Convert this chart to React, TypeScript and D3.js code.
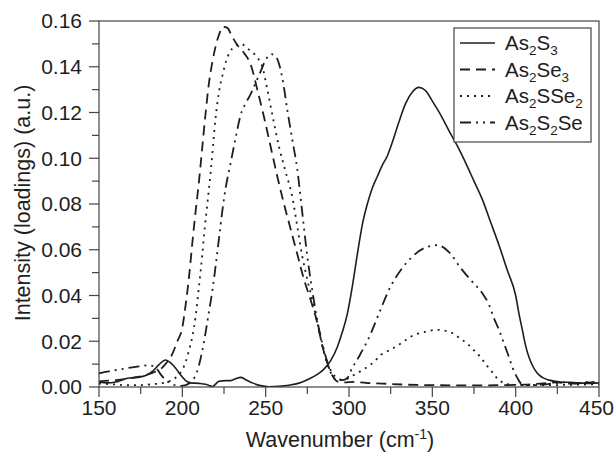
import React from "react";
import * as d3 from "d3";

// wavenumber (cm-1), intensity (loadings)
const as2s3: [number, number][] = [
  [150, 0.0022], [155, 0.0018], [160, 0.0022], [167, 0.0038], [173, 0.0042], [178, 0.005],
  [182, 0.0068], [186, 0.0098], [190, 0.0118], [193, 0.0105], [196, 0.0082], [199, 0.0052],
  [202, 0.0028], [205, 0.0018], [210, 0.0016], [214, 0.0012], [218, 0.0002], [222, 0.0025],
  [226, 0.0028], [229, 0.0028], [232, 0.0036], [235, 0.0042], [238, 0.0032], [242, 0.0018],
  [247, 0.0006], [252, 0.0001], [258, 0.0003], [264, 0.0008], [270, 0.0017], [276, 0.0035],
  [281, 0.0055], [285, 0.0078], [289, 0.0115], [293, 0.0175], [296, 0.024], [299, 0.032],
  [302, 0.044], [305, 0.058], [308, 0.071], [311, 0.08], [314, 0.087], [317, 0.092],
  [320, 0.097], [323, 0.101], [326, 0.107], [330, 0.116], [334, 0.124], [338, 0.129],
  [342, 0.131], [346, 0.1295], [350, 0.125], [355, 0.119], [360, 0.112], [366, 0.104],
  [370, 0.098], [375, 0.09], [380, 0.082], [385, 0.072], [390, 0.062], [395, 0.051],
  [400, 0.04], [402, 0.032], [404, 0.025], [406, 0.018], [408, 0.013], [410, 0.0095],
  [413, 0.006], [416, 0.0042], [420, 0.003], [427, 0.0022], [435, 0.002], [442, 0.0016],
  [450, 0.0018],
];

const as2se3: [number, number][] = [
  [150, 0.0025], [160, 0.003], [170, 0.004], [178, 0.0052], [184, 0.0068], [188, 0.0085],
  [191, 0.011], [194, 0.0145], [197, 0.02], [200, 0.026], [202, 0.036], [204, 0.048],
  [206, 0.063], [208, 0.077], [210, 0.09], [212, 0.105], [214, 0.12], [216, 0.133],
  [218, 0.142], [220, 0.149], [222, 0.154], [224.5, 0.1575], [227, 0.157], [230, 0.153],
  [233, 0.1495], [237, 0.146], [241, 0.141], [245, 0.13], [249, 0.118], [253, 0.105],
  [257, 0.092], [261, 0.08], [265, 0.069], [269, 0.058], [273, 0.047], [277, 0.038],
  [281, 0.028], [284, 0.018], [287, 0.0105], [290, 0.005], [293, 0.0025], [297, 0.002],
  [303, 0.0022], [310, 0.0018], [320, 0.0015], [335, 0.001], [350, 0.0008], [370, 0.0007],
  [390, 0.0008], [405, 0.001], [415, 0.0015], [425, 0.002], [432, 0.0015], [440, 0.0018],
  [450, 0.0022],
];

const as2sse2: [number, number][] = [
  [150, 0.0015], [158, 0.0012], [166, 0.0008], [174, 0.0008], [182, 0.0012], [190, 0.002],
  [195, 0.0035], [198, 0.0055], [200, 0.0075], [202, 0.011], [204, 0.016], [206, 0.022],
  [208, 0.031], [210, 0.044], [212, 0.058], [213.5, 0.07], [215, 0.08], [217, 0.094],
  [218.5, 0.106], [220, 0.118], [222, 0.129], [224, 0.136], [226.5, 0.143], [230, 0.148],
  [235, 0.15], [240, 0.1475], [245, 0.144], [248, 0.14], [251, 0.13], [254, 0.119],
  [258, 0.105], [262, 0.094], [266, 0.083], [269, 0.07], [272, 0.057], [275, 0.047],
  [278, 0.038], [281, 0.028], [284, 0.018], [287, 0.01], [290, 0.005], [293, 0.003],
  [297, 0.003], [301, 0.0045], [306, 0.0065], [311, 0.0088], [315, 0.011], [319, 0.014],
  [324, 0.016], [329, 0.018], [333, 0.02], [337, 0.022], [345, 0.024], [353, 0.025],
  [362, 0.0236], [367, 0.021], [371, 0.019], [375, 0.016], [379, 0.013], [382, 0.01],
  [385, 0.0074], [388, 0.0045], [391, 0.0025], [395, 0.0012], [405, 0.0008], [420, 0.0008],
  [435, 0.001], [450, 0.0012],
];

const as2s2se: [number, number][] = [
  [150, 0.006], [157, 0.007], [165, 0.008], [172, 0.0088], [180, 0.0095], [184, 0.0085],
  [187, 0.0055], [190, 0.003], [194, 0.0012], [198, 0.0005], [202, 0.0008], [205, 0.0022],
  [207.5, 0.0045], [210, 0.0095], [212, 0.016], [214, 0.024], [216, 0.033], [218, 0.042],
  [220, 0.053], [222, 0.065], [224, 0.077], [226, 0.087], [229, 0.098], [232, 0.109],
  [235, 0.119], [238, 0.124], [241, 0.128], [244, 0.133], [247, 0.138], [250, 0.143],
  [253.5, 0.1455], [256.5, 0.144], [258.5, 0.14], [260.5, 0.133], [263, 0.121], [266, 0.108],
  [269, 0.095], [272, 0.076], [275, 0.057], [278, 0.042], [281, 0.029], [284, 0.019],
  [287, 0.011], [290, 0.006], [293, 0.004], [296, 0.003], [299, 0.004], [302, 0.0085],
  [305, 0.012], [308, 0.016], [311, 0.02], [314, 0.025], [319, 0.034], [325, 0.044],
  [331, 0.051], [338, 0.057], [346, 0.061], [353, 0.062], [360, 0.059], [367, 0.052],
  [374, 0.046], [380, 0.041], [384, 0.036], [387, 0.03], [390, 0.025], [393, 0.019],
  [396, 0.013], [398, 0.0087], [401, 0.004], [403, 0.0017], [407, 0.0008], [415, 0.001],
  [422, 0.0015], [430, 0.002], [437, 0.0015], [443, 0.0022], [450, 0.002],
];

const xTicks = [150, 200, 250, 300, 350, 400, 450];
const xMinor = [175, 225, 275, 325, 375, 425];
const yTicks = [0, 0.02, 0.04, 0.06, 0.08, 0.1, 0.12, 0.14, 0.16];
const yMinor = [0.01, 0.03, 0.05, 0.07, 0.09, 0.11, 0.13, 0.15];

const FONT = "'Liberation Sans', Arial, Helvetica, sans-serif";
const INK = "#1e1e1e";

const series = [
  { name: ["As", "2", "S", "3"], data: as2s3, dash: null, w: 1.6 },
  { name: ["As", "2", "Se", "3"], data: as2se3, dash: "10,6", w: 1.8 },
  { name: ["As", "2", "SSe", "2"], data: as2sse2, dash: "2,5", w: 1.8 },
  { name: ["As", "2", "S", "2", "Se"], data: as2s2se, dash: "11,5,2,5,2,5", w: 1.8 },
];

export default function App() {
  const x = d3.scaleLinear().domain([150, 450]).range([99, 599]);
  const y = d3.scaleLinear().domain([0, 0.16]).range([387, 21]);
  const line = d3
    .line<[number, number]>()
    .x((d) => x(d[0]))
    .y((d) => y(d[1]))
    .curve(d3.curveMonotoneX);
  const fmt = d3.format(".2f");
  const lastX = xTicks[xTicks.length - 1];

  return (
    <svg
      width={615}
      height={453}
      style={{ position: "absolute", left: 0, top: 0, background: "#fff" }}
      fontFamily={FONT}
    >
      <defs>
        <clipPath id="plot">
          <rect x={99} y={21} width={500} height={366} />
        </clipPath>
      </defs>

      <g clipPath="url(#plot)" fill="none" stroke={INK}>
        {series.map((s, i) => (
          <path
            key={i}
            d={line(s.data) || ""}
            strokeWidth={s.w}
            strokeDasharray={s.dash || undefined}
          />
        ))}
      </g>

      {/* frame */}
      <rect x={99} y={21} width={500} height={366} fill="none" stroke="#444" strokeWidth={1.2} />

      {/* y axis */}
      {yTicks.map((t) => (
        <g key={"y" + t}>
          <line x1={89} x2={99} y1={y(t)} y2={y(t)} stroke="#444" strokeWidth={1.2} />
          <text x={82} y={y(t)} dy="0.35em" textAnchor="end" fontSize={21} fill={INK}>
            {fmt(t)}
          </text>
        </g>
      ))}
      {yMinor.map((t) => (
        <line key={"ym" + t} x1={92} x2={99} y1={y(t)} y2={y(t)} stroke="#444" strokeWidth={1.2} />
      ))}

      {/* x axis */}
      {xTicks.map((t) => (
        <g key={"x" + t}>
          <line x1={x(t)} x2={x(t)} y1={387} y2={397} stroke="#444" strokeWidth={1.2} />
          <text
            x={t === lastX ? 614 : x(t)}
            y={415}
            textAnchor={t === lastX ? "end" : "middle"}
            fontSize={21}
            fill={INK}
          >
            {t}
          </text>
        </g>
      ))}
      {xMinor.map((t) => (
        <line key={"xm" + t} x1={x(t)} x2={x(t)} y1={387} y2={394} stroke="#444" strokeWidth={1.2} />
      ))}

      <text x={340} y={447} textAnchor="middle" fontSize={21.5} fill={INK}>
        Wavenumber (cm
        <tspan fontSize={14} dy={-8}>-1</tspan>
        <tspan dy={8}>)</tspan>
      </text>
      <text
        transform="translate(30,203) rotate(-90)"
        textAnchor="middle"
        fontSize={21.5}
        fill={INK}
      >
        Intensity (loadings) (a.u.)
      </text>

      {/* legend */}
      <rect x={454} y={28} width={137} height={114} fill="#fff" stroke="#444" strokeWidth={1.2} />
      {series.map((s, i) => {
        const ly = 43 + i * 26.5;
        return (
          <g key={"lg" + i}>
            <line
              x1={460}
              x2={495}
              y1={ly}
              y2={ly}
              stroke={INK}
              strokeWidth={s.w}
              strokeDasharray={s.dash || undefined}
            />
            <text x={505} y={ly + 7} fontSize={20.5} fill={INK}>
              {s.name.map((p, j) =>
                j % 2 === 1 ? (
                  <tspan key={j} fontSize={13.5} dy={5}>
                    {p}
                  </tspan>
                ) : (
                  <tspan key={j} dy={j === 0 ? 0 : -5}>
                    {p}
                  </tspan>
                )
              )}
            </text>
          </g>
        );
      })}
    </svg>
  );
}
